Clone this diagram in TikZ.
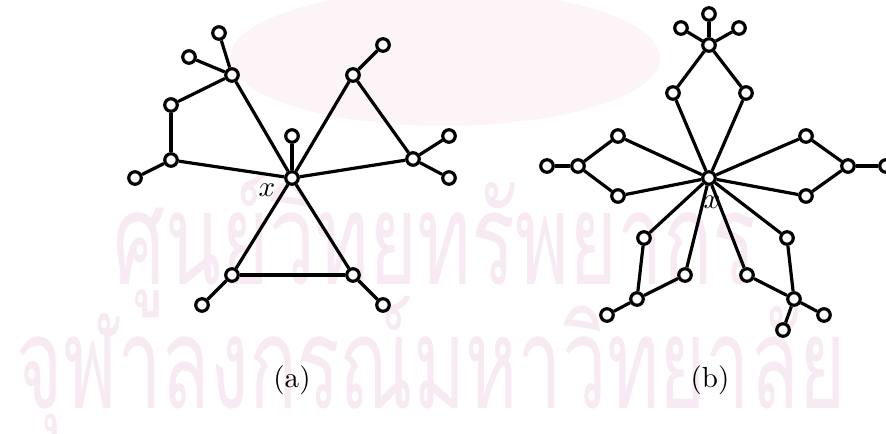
\documentclass[tikz,border=0pt]{standalone}
\usepackage{fontspec}
\newfontfamily\thaifont[Script=Thai]{Loma}
\usetikzlibrary{positioning}

\definecolor{wmark}{RGB}{247,234,242}
\definecolor{wlogo}{RGB}{253,244,247}

\begin{document}
\begin{tikzpicture}[
    x=0.0121cm,
    y=-0.0121cm,
    vertex/.style={
        circle,
        draw=black,
        fill=white,
        line width=1.1pt,
        inner sep=0pt,
        minimum size=4.3pt
    },
    edge/.style={
        line width=1.1pt,
        draw=black
    },
    caption/.style={
        inner sep=0pt,
        font=\normalsize
    },
    watermark/.style={
        inner sep=0pt,
        anchor=base,
        text=wmark,
        font=\thaifont\fontsize{44}{44}\selectfont
    }
]
    \useasboundingbox (0,0) rectangle (886,434);

    % watermark in the background
    \fill [wlogo] (445,58) ellipse [x radius=215, y radius=68];
    \node [watermark] (wm1) at (435,285) {\resizebox{7.78cm}{\height}{ศูนย์วิทยทรัพยากร}};
    \node [watermark] (wm2) at (431,409) {\resizebox{10.03cm}{\height}{จุฬาลงกรณ์มหาวิทยาลัย}};

    % (a)
    \node [caption] (xa-label) at (267,190) {$x$};
    \node [vertex] (xa) at (292,178) {};
    \node [vertex] (stub) at (292,136) {};
    \node [vertex] (lhub) at (232,75) {};
    \node [vertex] (lhub-1) at (219,33) {};
    \node [vertex] (lhub-2) at (189,57) {};
    \node [vertex] (lpath-1) at (171,105) {};
    \node [vertex] (lpath-2) at (171,160) {};
    \node [vertex] (lleaf) at (135,178) {};
    \node [vertex] (rtop) at (353,75) {};
    \node [vertex] (rtop-leaf) at (383,45) {};
    \node [vertex] (rmid) at (413,159) {};
    \node [vertex] (rmid-1) at (449,136) {};
    \node [vertex] (rmid-2) at (449,178) {};
    \node [vertex] (bleft) at (232,275) {};
    \node [vertex] (bright) at (353,275) {};
    \node [vertex] (bleft-leaf) at (202,305) {};
    \node [vertex] (bright-leaf) at (383,305) {};

    \draw [edge] (xa) -- (stub);
    \draw [edge] (xa) -- (lhub);
    \draw [edge] (lhub) -- (lhub-1);
    \draw [edge] (lhub) -- (lhub-2);
    \draw [edge] (lhub) -- (lpath-1);
    \draw [edge] (lpath-1) -- (lpath-2);
    \draw [edge] (lpath-2) -- (xa);
    \draw [edge] (lpath-2) -- (lleaf);
    \draw [edge] (xa) -- (rtop);
    \draw [edge] (rtop) -- (rtop-leaf);
    \draw [edge] (rtop) -- (rmid);
    \draw [edge] (rmid) -- (xa);
    \draw [edge] (rmid) -- (rmid-1);
    \draw [edge] (rmid) -- (rmid-2);
    \draw [edge] (xa) -- (bleft);
    \draw [edge] (xa) -- (bright);
    \draw [edge] (bleft) -- (bright);
    \draw [edge] (bleft) -- (bleft-leaf);
    \draw [edge] (bright) -- (bright-leaf);

    \node [caption] (cap-a) at (292,380) {(a)};

    % (b)
    \node [caption] (xb-label) at (712,202) {$x$};
    \node [vertex] (xb) at (709,178) {};
    \node [vertex] (top-1) at (673,93) {};
    \node [vertex] (top-2) at (746,93) {};
    \node [vertex] (top-hub) at (709,45) {};
    \node [vertex] (top-leaf-1) at (681,28) {};
    \node [vertex] (top-leaf-2) at (709,14) {};
    \node [vertex] (top-leaf-3) at (739,28) {};
    \node [vertex] (left-1) at (618,136) {};
    \node [vertex] (left-2) at (618,196) {};
    \node [vertex] (left-hub) at (578,166) {};
    \node [vertex] (left-leaf) at (547,166) {};
    \node [vertex] (right-1) at (806,136) {};
    \node [vertex] (right-2) at (806,196) {};
    \node [vertex] (right-hub) at (848,166) {};
    \node [vertex] (right-leaf) at (886,166) {};
    \node [vertex] (sw-1) at (644,238) {};
    \node [vertex] (sw-2) at (685,275) {};
    \node [vertex] (sw-hub) at (637,299) {};
    \node [vertex] (sw-leaf) at (607,315) {};
    \node [vertex] (se-1) at (787,238) {};
    \node [vertex] (se-2) at (747,275) {};
    \node [vertex] (se-hub) at (794,299) {};
    \node [vertex] (se-leaf-1) at (824,315) {};
    \node [vertex] (se-leaf-2) at (783,330) {};

    \draw [edge] (xb) -- (top-1);
    \draw [edge] (xb) -- (top-2);
    \draw [edge] (top-1) -- (top-hub);
    \draw [edge] (top-2) -- (top-hub);
    \draw [edge] (top-hub) -- (top-leaf-1);
    \draw [edge] (top-hub) -- (top-leaf-2);
    \draw [edge] (top-hub) -- (top-leaf-3);
    \draw [edge] (xb) -- (left-1);
    \draw [edge] (xb) -- (left-2);
    \draw [edge] (left-1) -- (left-hub);
    \draw [edge] (left-2) -- (left-hub);
    \draw [edge] (left-hub) -- (left-leaf);
    \draw [edge] (xb) -- (right-1);
    \draw [edge] (xb) -- (right-2);
    \draw [edge] (right-1) -- (right-hub);
    \draw [edge] (right-2) -- (right-hub);
    \draw [edge] (right-hub) -- (right-leaf);
    \draw [edge] (xb) -- (sw-1);
    \draw [edge] (xb) -- (sw-2);
    \draw [edge] (sw-1) -- (sw-hub);
    \draw [edge] (sw-2) -- (sw-hub);
    \draw [edge] (sw-hub) -- (sw-leaf);
    \draw [edge] (xb) -- (se-1);
    \draw [edge] (xb) -- (se-2);
    \draw [edge] (se-1) -- (se-hub);
    \draw [edge] (se-2) -- (se-hub);
    \draw [edge] (se-hub) -- (se-leaf-1);
    \draw [edge] (se-hub) -- (se-leaf-2);

    \node [caption] (cap-b) at (710,380) {(b)};
\end{tikzpicture}
\end{document}
